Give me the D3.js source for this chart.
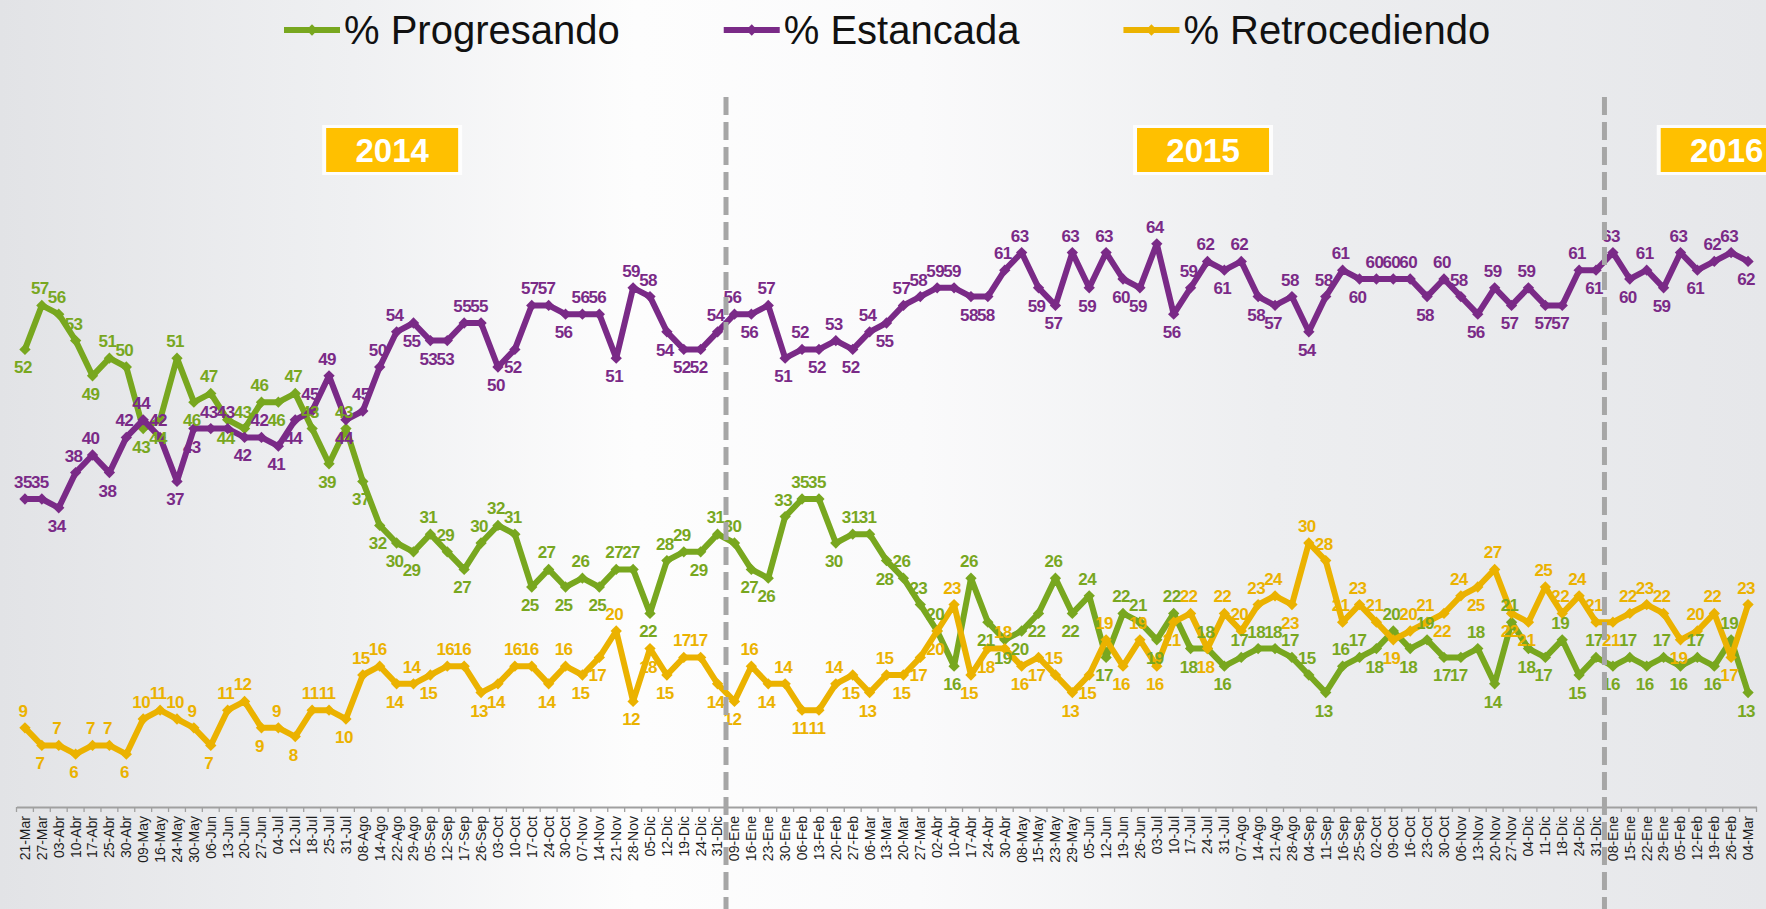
<!DOCTYPE html>
<html>
<head>
<meta charset="utf-8">
<script src="https://cdn.jsdelivr.net/npm/d3@7"></script>
<style>
  body { margin: 0; background: #ebecee; }
  svg { display: block; font-family: "Liberation Sans", Arial, sans-serif; }
</style>
</head>
<body>
<svg width="1766" height="909"></svg>
<script>
var width = 1766,
  height = 909;

// fechas por año
var dates2014 = ["21-Mar","27-Mar","03-Abr","10-Abr","17-Abr","25-Abr","30-Abr","09-May","16-May","24-May",
  "30-May","06-Jun","13-Jun","20-Jun","27-Jun","04-Jul","12-Jul","18-Jul","25-Jul","31-Jul","08-Ago","14-Ago",
  "22-Ago","29-Ago","05-Sep","12-Sep","17-Sep","26-Sep","03-Oct","10-Oct","17-Oct","24-Oct","30-Oct","07-Nov",
  "14-Nov","21-Nov","28-Nov","05-Dic","12-Dic","19-Dic","24-Dic","31-Dic"];
var dates2015 = ["09-Ene","16-Ene","23-Ene","30-Ene","06-Feb","13-Feb","20-Feb","27-Feb","06-Mar","13-Mar",
  "20-Mar","27-Mar","02-Abr","10-Abr","17-Abr","24-Abr","30-Abr","08-May","15-May","23-May","29-May","05-Jun",
  "12-Jun","19-Jun","26-Jun","03-Jul","10-Jul","17-Jul","24-Jul","31-Jul","07-Ago","14-Ago","21-Ago","28-Ago",
  "04-Sep","11-Sep","16-Sep","25-Sep","02-Oct","09-Oct","16-Oct","23-Oct","30-Oct","06-Nov","13-Nov","20-Nov",
  "27-Nov","04-Dic","11-Dic","18-Dic","24-Dic","31-Dic"];
var dates2016 = ["08-Ene","15-Ene","22-Ene","29-Ene","05-Feb","12-Feb","19-Feb","26-Feb","04-Mar"];
var categories = dates2014.concat(dates2015, dates2016);

var progresando = [52,57,56,53,49,51,50,43,44,51,46,47,44,43,46,46,47,43,39,43,37,
  32,30,29,31,29,27,30,32,31,25,27,25,26,25,27,27,22,28,29,29,31,
  30,27,26,33,35,35,30,31,31,28,26,23,20,16,26,21,19,20,22,26,22,24,17,22,21,19,
  22,18,18,16,17,18,18,17,15,13,16,17,18,20,18,19,17,17,18,14,21,18,17,19,15,17,
  16,17,16,17,16,17,16,19,13];
var estancada = [35,35,34,38,40,38,42,44,42,37,43,43,43,42,42,41,44,45,49,44,45,
  50,54,55,53,53,55,55,50,52,57,57,56,56,56,51,59,58,54,52,52,54,
  56,56,57,51,52,52,53,52,54,55,57,58,59,59,58,58,61,63,59,57,63,59,63,60,59,64,
  56,59,62,61,62,58,57,58,54,58,61,60,60,60,60,58,60,58,56,59,57,59,57,57,61,61,
  63,60,61,59,63,61,62,63,62];
var retrocediendo = [9,7,7,6,7,7,6,10,11,10,9,7,11,12,9,9,8,11,11,10,15,
  16,14,14,15,16,16,13,14,16,16,14,16,15,17,20,12,18,15,17,17,14,
  12,16,14,14,11,11,14,15,13,15,15,17,20,23,15,18,18,16,17,15,13,15,19,16,19,16,
  21,22,18,22,20,23,24,23,30,28,21,23,21,19,20,21,22,24,25,27,22,21,25,22,24,21,
  21,22,23,22,19,20,22,17,23];

var seriesNames = ["% Progresando", "% Estancada", "% Retrocediendo"];
var seriesColors = ["#78a71f", "#7a2a87", "#ebb200"];
var series = [progresando, estancada, retrocediendo];

var yearLabels = ["2014", "2015", "2016"];
var yearAnchors = [
  dates2014.indexOf("22-Ago"),
  dates2014.length + dates2015.indexOf("24-Jul"),
  dates2014.length + dates2015.length + dates2016.indexOf("26-Feb")
];
var yearBreaks = [dates2014.length, dates2014.length + dates2015.length];

var svg = d3.select("svg");

// fondo
var grad = svg.append("defs").append("linearGradient")
  .attr("id", "bg").attr("x1", 0).attr("x2", 1).attr("y1", 0).attr("y2", 0);
[[0, "#e2e3e6"], [0.2, "#eff0f2"], [0.36, "#fdfdfd"], [0.52, "#fafafb"], [0.72, "#edeef0"], [1, "#e6e7ea"]]
  .forEach(function (s) {
    grad.append("stop").attr("offset", s[0]).attr("stop-color", s[1]);
  });
svg.append("rect").attr("width", width).attr("height", height).attr("fill", "url(#bg)");

var x = d3.scaleBand()
  .domain(d3.range(categories.length))
  .range([16.5, 1756.5]);
var y = d3.scaleLinear().domain([0, 70]).range([807, 191]);
var cx = (i) => x(i) + x.bandwidth() / 2;

// eje x
var gx = svg.append("g")
  .attr("transform", "translate(0,807)")
  .call(d3.axisBottom(x).tickSize(0).tickSizeOuter(0).tickFormat((i) => categories[i]));
gx.attr("font-family", "'Liberation Sans', Arial, sans-serif").attr("font-size", 14);
gx.select(".domain").attr("stroke", "#a0a0a0").attr("stroke-width", 2);
gx.selectAll(".tick text")
  .attr("transform", "rotate(-90)")
  .attr("x", -9)
  .attr("y", 0)
  .attr("dy", "0.35em")
  .style("text-anchor", "end")
  .attr("fill", "#1e1e1e");
gx.selectAll(".bound")
  .data(d3.range(categories.length + 1))
  .enter()
  .append("line")
  .attr("class", "bound")
  .attr("x1", (i) => (i < categories.length ? x(i) : x.range()[1]))
  .attr("x2", (i) => (i < categories.length ? x(i) : x.range()[1]))
  .attr("y1", 0)
  .attr("y2", 5)
  .attr("stroke", "#a0a0a0")
  .attr("stroke-width", 1.3);

// cajas de año
var boxes = svg.append("g").selectAll("g")
  .data(yearLabels)
  .enter()
  .append("g")
  .attr("transform", (d, i) => "translate(" + (x(yearAnchors[i]) + 4) + ",150)");
boxes.append("rect")
  .attr("x", -70).attr("y", -25).attr("width", 140).attr("height", 50)
  .attr("fill", "#ffffff").attr("opacity", 0.85);
boxes.append("rect")
  .attr("x", -66).attr("y", -22).attr("width", 132).attr("height", 44)
  .attr("fill", "#ffc000");
boxes.append("text")
  .attr("text-anchor", "middle")
  .attr("y", 12)
  .attr("font-size", 33)
  .attr("font-weight", "bold")
  .attr("fill", "#ffffff")
  .text((d) => d);

// series
var line = d3.line()
  .x((d, i) => cx(i))
  .y((d) => y(d));
var diamond = d3.symbol(d3.symbolSquare, 64);

series.forEach(function (vals, s) {
  var g = svg.append("g");
  g.append("path")
    .attr("d", line(vals))
    .attr("fill", "none")
    .attr("stroke", seriesColors[s])
    .attr("stroke-width", 6)
    .attr("stroke-linejoin", "round");
  g.selectAll("path.pt")
    .data(vals)
    .enter()
    .append("path")
    .attr("class", "pt")
    .attr("d", diamond)
    .attr("transform", (d, i) => "translate(" + cx(i) + "," + y(d) + ") rotate(45)")
    .attr("fill", seriesColors[s]);
});

function above(vals, i) {
  var prev = i > 0 ? vals[i - 1] : vals[i + 1];
  var next = i < vals.length - 1 ? vals[i + 1] : vals[i - 1];
  return vals[i] >= (prev + next) / 2;
}

// etiquetas de datos
var labels = [];
series.forEach(function (vals, s) {
  svg.append("g")
    .selectAll("text")
    .data(vals)
    .enter()
    .append("text")
    .attr("x", (d, i) => cx(i) - 2)
    .attr("y", (d, i) => (above(vals, i) ? y(d) - 11 : y(d) + 24))
    .attr("text-anchor", "middle")
    .attr("font-size", 17)
    .attr("font-weight", "bold")
    .attr("letter-spacing", -0.6)
    .attr("fill", seriesColors[s])
    .text((d) => d)
    .each(function (d, i) {
      labels.push({ node: this, s: s, i: i, up: above(vals, i), v: d });
    });
});

// pequeño ajuste para evitar choques entre etiquetas
function hits(a, b) {
  return a.x < b.x + b.width - 1 && b.x < a.x + a.width - 1 &&
    a.y < b.y + b.height - 4 && b.y < a.y + a.height - 4;
}
var placed = [];
labels.forEach(function (l) {
  var sel = d3.select(l.node);
  var count = (bb) => placed.filter((p) => hits(bb, p)).length;
  var bb = l.node.getBBox();
  var best = bb, n = count(bb);
  if (n > 0) {
    var alts = [
      [0, l.up ? 35 : -35],
      [-6, 0], [6, 0],
      [0, l.up ? -6 : 6]
    ];
    var ox = +sel.attr("x"), oy = +sel.attr("y");
    var bestPos = [ox, oy];
    alts.forEach(function (a) {
      if (n === 0) return;
      sel.attr("x", ox + a[0]).attr("y", oy + a[1]);
      var b2 = l.node.getBBox();
      var n2 = count(b2);
      if (n2 < n) { n = n2; best = b2; bestPos = [ox + a[0], oy + a[1]]; }
    });
    sel.attr("x", bestPos[0]).attr("y", bestPos[1]);
  }
  placed.push(best);
});

// separadores de año
svg.append("g")
  .selectAll("line")
  .data(yearBreaks)
  .enter()
  .append("line")
  .attr("x1", (d) => x(d))
  .attr("x2", (d) => x(d))
  .attr("y1", 97)
  .attr("y2", height)
  .attr("stroke", "#a6a6a6")
  .attr("stroke-width", 5)
  .attr("stroke-dasharray", "18,7");

// leyenda
var legend = svg.append("g");
var lx = 284;
seriesNames.forEach(function (name, s) {
  var item = legend.append("g").attr("transform", "translate(" + lx + ",30)");
  item.append("line")
    .attr("x1", 0).attr("x2", 56)
    .attr("stroke", seriesColors[s]).attr("stroke-width", 6);
  item.append("path")
    .attr("d", diamond)
    .attr("transform", "translate(28,0) rotate(45)")
    .attr("fill", seriesColors[s]);
  var t = item.append("text")
    .attr("x", 60)
    .attr("y", 14)
    .attr("font-size", 40)
    .attr("fill", "#111")
    .text(name);
  lx += 60 + t.node().getComputedTextLength() + 104;
});
</script>
</body>
</html>
